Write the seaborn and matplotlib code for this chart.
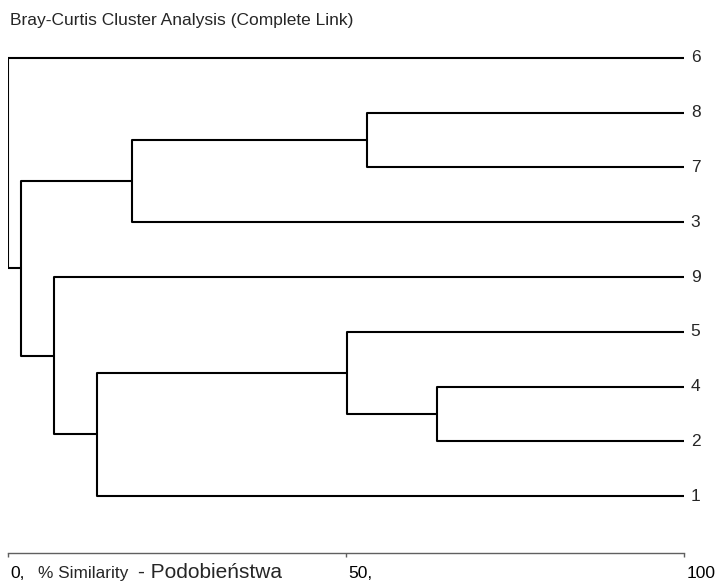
import numpy as np
import pandas as pd
import seaborn as sns
import matplotlib.pyplot as plt
from matplotlib.transforms import ScaledTranslation

# leaves listed top to bottom
leaf_labels = ["6", "8", "7", "3", "9", "5", "4", "2", "1"]
# merges, scipy style: ids 0-8 are leaves, 9+ are merged clusters
merge_left = [1, 6, 5, 9, 11, 4, 12, 0]
merge_right = [2, 7, 10, 3, 8, 13, 14, 15]
merge_sim = [53.1, 63.4, 50.2, 18.4, 13.2, 6.8, 1.9, 0.0]

tick_values = [0, 50, 100]
tick_names = ["0,", "50,", "100"]

sns.set_theme(style="white")
plt.rcParams['font.family'] = ['Liberation Sans', 'DejaVu Sans']

# node positions: x = similarity, y = leaf row
node_x = [100.0] * len(leaf_labels)
node_y = list(range(len(leaf_labels)))
rows = []
for i, (a, b, s) in enumerate(zip(merge_left, merge_right, merge_sim)):
    pts = [(node_x[a], node_y[a]), (s, node_y[a]), (s, node_y[b]), (node_x[b], node_y[b])]
    for k, (px, py) in enumerate(pts):
        rows.append({'seg': i, 'order': k, 'x': px, 'y': py})
    node_x.append(s)
    node_y.append((node_y[a] + node_y[b]) / 2)
df = pd.DataFrame(rows)

fig = plt.figure(figsize=(7.21, 5.81), dpi=100)
fig.patch.set_facecolor('white')
ax = fig.add_axes([8 / 721, 28 / 581, 676 / 721, 522.4 / 581])

sns.lineplot(data=df, x='x', y='y', units='seg', estimator=None, sort=False,
             color='black', linewidth=1.5, ax=ax, legend=False)

ax.set_xlim(0, 100)
ax.set_ylim(9.04, -0.5)
ax.set_xlabel('')
ax.set_ylabel('')
ax.set_yticks([])
ax.set_xticks(tick_values, tick_names)
ax.tick_params(axis='x', direction='out', length=3, width=1, color='#606060',
               pad=6, labelsize=12.5, labelcolor='black', bottom=True)
off = ScaledTranslation(2 / 72, 0, fig.dpi_scale_trans)
for lab in ax.get_xticklabels():
    lab.set_horizontalalignment('left')
    lab.set_transform(lab.get_transform() + off)

sns.despine(ax=ax, left=True, top=True, right=True)
ax.spines['bottom'].set_color('#606060')
ax.spines['bottom'].set_linewidth(1)

for i, name in enumerate(leaf_labels):
    ax.text(101.0, i, name, ha='left', va='center', fontsize=12.5, clip_on=False)

fig.text(10 / 721, 1 - 20 / 581, 'Bray-Curtis Cluster Analysis (Complete Link)',
         ha='left', va='center', fontsize=12.5)
fig.text(38 / 721, 1 - 578 / 581, '% Similarity', ha='left', va='baseline', fontsize=12.4)
fig.text(138 / 721, 1 - 578 / 581, '- Podobieństwa', ha='left', va='baseline', fontsize=15)

fig.savefig('out.png', dpi=100, facecolor='white')
